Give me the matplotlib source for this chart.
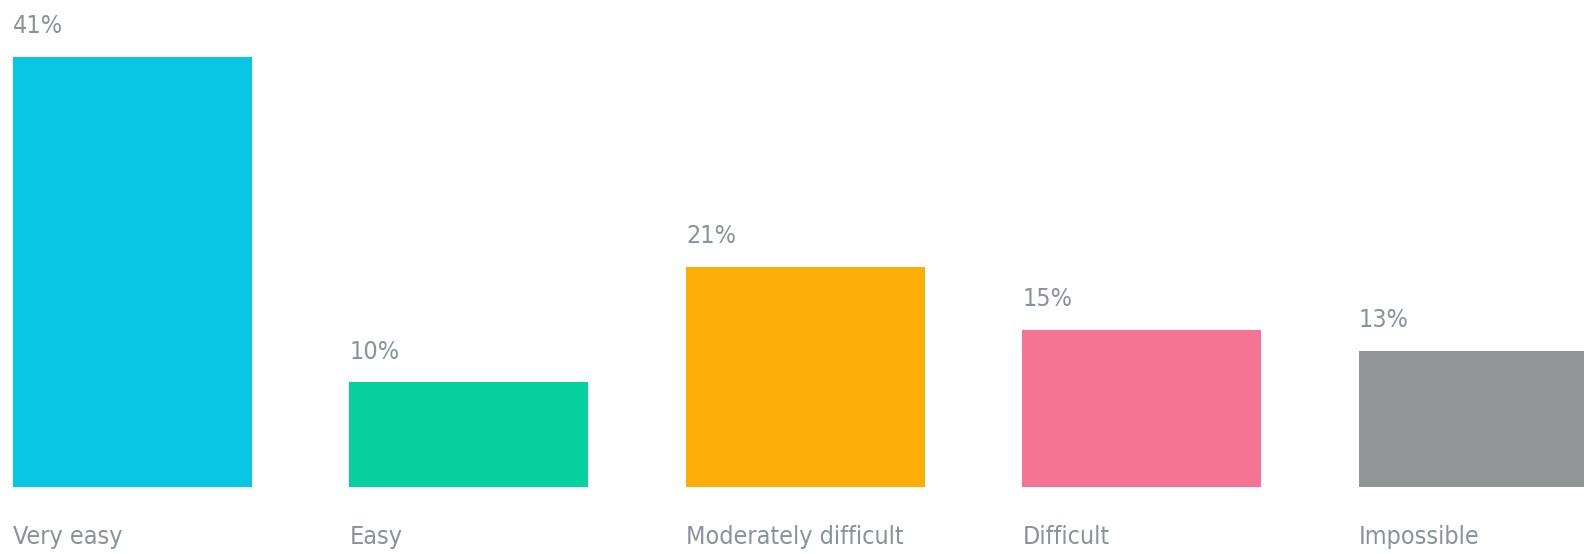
import matplotlib.pyplot as plt
import numpy as np

categories = ["Very easy", "Easy", "Moderately difficult", "Difficult", "Impossible"]
values = [41, 10, 21, 15, 13]
labels = ["41%", "10%", "21%", "15%", "13%"]
colors = ["#08c6e4", "#07cf9d", "#fbae08", "#f67493", "#939697"]

plt.rcParams["font.family"] = ["DejaVu Sans"]
plt.rcParams["font.stretch"] = "condensed"
text_color = "#86939a"

fig = plt.figure(figsize=(15.84, 5.54), dpi=100)
ax = fig.add_axes([13 / 1584, 67 / 554, 1 - 13 / 1584, 1 - 67 / 554])

x = np.arange(len(categories))
ax.bar(x, values, width=0.71, align="edge", color=colors)

for i, v in enumerate(values):
    ax.annotate(labels[i], (x[i], v), xytext=(0, 22), textcoords="offset points",
                ha="left", va="center", fontsize=18, color=text_color)
    ax.annotate(categories[i], (x[i], 0), xytext=(0, -36), textcoords="offset points",
                ha="left", va="center", fontsize=18, color=text_color, annotation_clip=False)

ax.set_xlim(0, (1584 - 13) / 336.5)
ax.set_ylim(0, 487 / 10.49)
ax.axis("off")

fig.savefig("out.png", dpi=100)
